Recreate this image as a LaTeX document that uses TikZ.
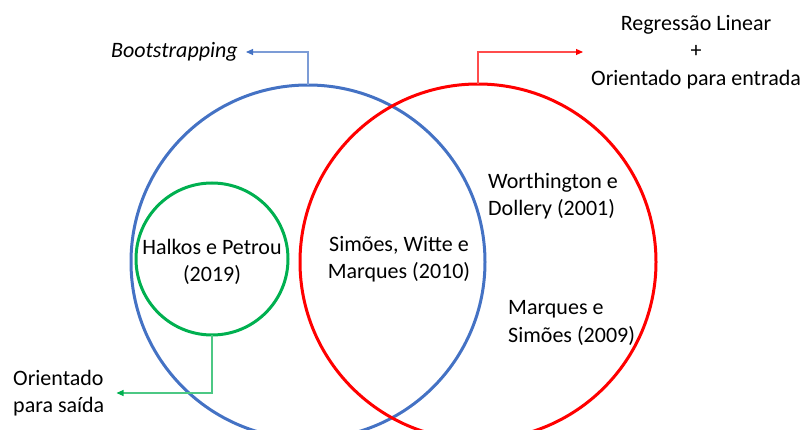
\documentclass[tikz,border=0pt]{standalone}
\usepackage{fontspec}
\setmainfont{Carlito}
\usetikzlibrary{arrows.meta}
\definecolor{cblue}{HTML}{4472C4}
\definecolor{cred}{HTML}{FF0000}
\definecolor{cgreen}{HTML}{00B050}
\tikzset{
  ring/.style={circle,draw,line width=3pt,inner sep=0pt,outer sep=0pt},
  lbl/.style={font=\fontsize{22}{27.5}\selectfont,inner sep=0pt,text=black},
  conn/.style={line width=1.1pt,draw=#1!70,-{Triangle[length=7pt,width=6pt,color=#1]}}
}
\begin{document}
\begin{tikzpicture}[x=1pt,y=-1pt]
\useasboundingbox (0,0) rectangle (806,430);
\node[ring,draw=cblue,minimum size=354pt] (blue) at (308,262) {};
\node[ring,draw=cred,minimum size=356pt] (red) at (478,262) {};
\node[ring,draw=cgreen,minimum size=152pt] (green) at (212,259) {};

\node[lbl,align=center] (halkos) at (212,262) {Halkos e Petrou\\(2019)};
\node[lbl,align=center] (simoes) at (399,259) {Simões, Witte e\\Marques (2010)};
\node[lbl,align=left,anchor=west] (worth) at (488,196) {Worthington e\\Dollery (2001)};
\node[lbl,align=left,anchor=west] (marq) at (508,323) {Marques e\\Simões (2009)};

\node[lbl,anchor=east,font=\fontsize{22}{27.5}\selectfont\itshape] (boot) at (238,52) {Bootstrapping};
\node[lbl,align=center,anchor=west] (reg) at (591,52) {Regressão Linear\\+\\Orientado para entrada};
\node[lbl,align=left,anchor=west] (out) at (13,393) {Orientado\\para saída};

\draw[conn=cblue] (blue.north) |- ([xshift=8pt]boot.east);
\draw[conn=cred] (red.north) |- ([xshift=-8pt]reg.west);
\draw[conn=cgreen] (green.south) |- ([xshift=12pt]out.east);
\end{tikzpicture}
\end{document}
